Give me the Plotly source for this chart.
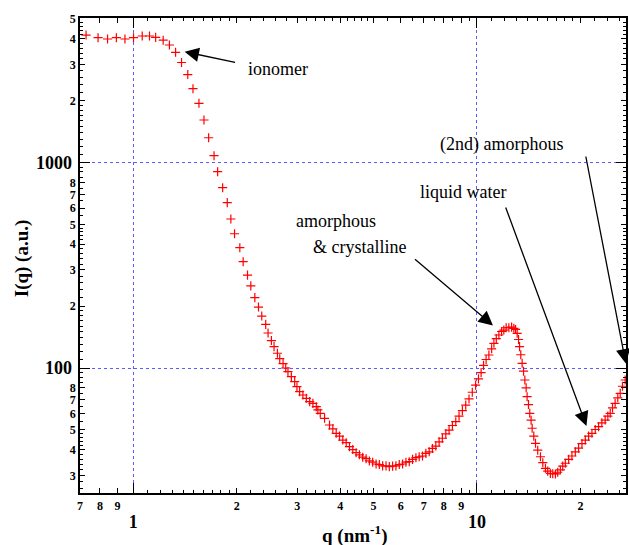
import plotly.graph_objects as go

# ---- data ----
q = [0.729, 0.790, 0.842, 0.893, 0.946, 1.002, 1.062, 1.115, 1.162, 1.222,
     1.274, 1.328, 1.382, 1.441, 1.492, 1.553, 1.606, 1.657, 1.718, 1.760,
     1.820, 1.877, 1.923, 1.971, 2.042, 2.088, 2.150, 2.198, 2.258, 2.314,
     2.365, 2.429, 2.467, 2.523, 2.568, 2.627, 2.668, 2.728, 2.777, 2.819,
     2.884, 2.949, 2.994, 3.048, 3.116, 3.188, 3.260, 3.332, 3.408, 3.444,
     3.500, 3.602, 3.724, 3.807, 3.894, 3.981, 4.070, 4.164, 4.256, 4.351,
     4.450, 4.550, 4.651, 4.758, 4.864, 4.972, 5.087, 5.199, 5.316, 5.437,
     5.558, 5.683, 5.810, 5.942, 6.075, 6.213, 6.352, 6.494, 6.643, 6.790,
     6.942, 7.100, 7.260, 7.420, 7.590, 7.760, 7.930, 8.116, 8.295, 8.482,
     8.675, 8.868, 9.067, 9.274, 9.480, 9.690, 9.910, 10.10, 10.28, 10.45,
     10.63, 10.83, 11.03, 11.20, 11.38, 11.58, 11.79, 11.97, 12.16, 12.38,
     12.61, 12.80, 12.95, 13.09, 13.21, 13.30, 13.41, 13.53, 13.66, 13.78,
     13.90, 13.99, 14.12, 14.24, 14.37, 14.47, 14.63, 14.80, 15.02, 15.30,
     15.54, 15.82, 16.06, 16.35, 16.61, 16.91, 17.17, 17.48, 17.76, 18.07,
     18.48, 18.89, 19.32, 19.75, 20.20, 20.66, 21.12, 21.60, 22.08, 22.58,
     23.08, 23.60, 24.02, 24.41, 24.79, 25.23, 25.68, 26.10, 26.50, 26.98]
intensity = [4170, 4050, 3990, 4050, 3990, 4050, 4126, 4126, 4064, 3937,
             3731, 3437, 3066, 2679, 2286, 1941, 1610, 1320, 1079, 902,
             754, 638, 531, 450, 385, 329, 283, 251, 220, 198,
             179, 163, 148, 136, 127, 118, 111, 105, 100, 96,
             90.7, 85.8, 81.1, 76.7, 73.9, 71.2, 68.6, 67.3, 64.8, 62.5,
             60.2, 56.9, 52.8, 50.6, 48.1, 46.6, 44.6, 43.3, 41.4, 40.1,
             38.7, 37.8, 36.8, 36.2, 35.3, 34.8, 34.1, 33.9, 33.4, 33.4,
             33.1, 33.3, 33.4, 33.9, 34.1, 34.8, 35.0, 35.9, 36.6, 37.0,
             37.3, 38.4, 39.1, 40.6, 41.7, 43.7, 45.5, 47.8, 49.9, 52.5,
             54.8, 58.3, 62.0, 66.0, 70.7, 76.2, 82.5, 88.5, 95.0, 103,
             110, 115.7, 124, 131.9, 139, 144.7, 150.5, 153, 157, 157,
             158, 156, 154, 147.5, 137.6, 127, 116, 105.4, 96.5, 87.4,
             80.1, 72.5, 66.4, 60.2, 55.7, 50.9, 46.6, 43.0, 39.8, 37.0,
             34.6, 32.5, 31.5, 30.7, 30.6, 30.5, 31.1, 31.9, 33.3, 34.4,
             35.9, 37.3, 39.1, 40.7, 42.9, 44.6, 46.6, 48.1, 50.2, 51.8,
             54.1, 55.8, 58.3, 60.2, 64.0, 67.3, 71.6, 75.3, 81.5, 87.4]

# tick labels
x_digit_vals = [0.7, 0.8, 0.9, 2, 3, 4, 5, 6, 7, 8, 9, 20]
x_digit_text = ["7", "8", "9", "2", "3", "4", "5", "6", "7", "8", "9", "2"]
x_major_vals = [1, 10]
x_major_text = ["1", "10"]
x_minor_vals = [1.1, 1.2, 1.3, 1.4, 1.5, 1.6, 1.7, 1.8, 1.9,
                2.2, 2.4, 2.6, 2.8, 3.2, 3.4, 3.6, 3.8, 4.2, 4.4, 4.6, 4.8,
                5.5, 6.5, 7.5, 8.5, 9.5,
                11, 12, 13, 14, 15, 16, 17, 18, 19, 22, 24, 26]

y_digit_vals = [30, 40, 50, 60, 70, 80, 200, 300, 400, 500, 600, 700, 800,
                2000, 3000, 4000, 5000]
y_digit_text = ["3", "4", "5", "6", "7", "8", "2", "3", "4", "5", "6", "7", "8",
                "2", "3", "4", "5"]
y_major_vals = [100, 1000]
y_major_text = ["100", "1000"]
y_minor_vals = [26, 28, 32, 34, 36, 38, 42, 44, 46, 48, 55, 65, 75, 85, 90, 95,
                110, 120, 130, 140, 150, 160, 170, 180, 190,
                220, 240, 260, 280, 320, 340, 360, 380, 420, 440, 460, 480,
                550, 650, 750, 850, 900, 950,
                1100, 1200, 1300, 1400, 1500, 1600, 1700, 1800, 1900,
                2200, 2400, 2600, 2800, 3200, 3400, 3600, 3800, 4200, 4400, 4600, 4800]

SERIF = "Liberation Serif, Times New Roman, serif"
XR = [-0.1549, 1.4335]
YR = [1.3917, 3.7032]

fig = go.Figure()
fig.add_trace(go.Scatter(
    x=q, y=intensity, mode="markers", showlegend=False, hoverinfo="skip",
    marker=dict(symbol="cross-thin", size=6.5, color="red",
                line=dict(color="red", width=1.2)),
))
fig.add_trace(go.Scatter(x=[], y=[], xaxis="x2", yaxis="y", showlegend=False))
fig.add_trace(go.Scatter(x=[], y=[], xaxis="x", yaxis="y2", showlegend=False))

common_tick = dict(ticks="inside", tickcolor="black", tickwidth=1, zeroline=False)

fig.update_layout(
    width=629, height=545, autosize=False,
    margin=dict(l=80, r=1, t=18, b=52),
    paper_bgcolor="white", plot_bgcolor="white",
    xaxis=dict(type="log", range=XR, showline=True, linecolor="black", linewidth=1.5,
               mirror="ticks", ticklen=5, tickvals=x_digit_vals, ticktext=x_digit_text,
               tickfont=dict(family=SERIF, size=12, color="black", weight="bold"),
               showgrid=False, ticklabelstandoff=1,
               minor=dict(tickvals=x_minor_vals, ticks="inside", ticklen=3,
                          tickcolor="black", tickwidth=1, showgrid=False),
               **common_tick),
    xaxis2=dict(type="log", range=XR, overlaying="x", anchor="y", side="bottom",
                showline=False, mirror="ticks", ticklen=10,
                tickvals=x_major_vals, ticktext=x_major_text,
                tickfont=dict(family=SERIF, size=18, color="black", weight="bold"),
                showgrid=True, gridcolor="#5a5aff", gridwidth=1, griddash="dot",
                ticklabelstandoff=16, **common_tick),
    yaxis=dict(type="log", range=YR, showline=True, linecolor="black", linewidth=1.5,
               mirror="ticks", ticklen=5, tickvals=y_digit_vals, ticktext=y_digit_text,
               tickfont=dict(family=SERIF, size=12, color="black", weight="bold"),
               showgrid=False, ticklabelstandoff=0,
               minor=dict(tickvals=y_minor_vals, ticks="inside", ticklen=3,
                          tickcolor="black", tickwidth=1, showgrid=False),
               **common_tick),
    yaxis2=dict(type="log", range=YR, overlaying="y", anchor="x", side="left",
                showline=False, mirror="ticks", ticklen=10,
                tickvals=y_major_vals, ticktext=y_major_text,
                tickfont=dict(family=SERIF, size=18, color="black", weight="bold"),
                showgrid=True, gridcolor="#5a5aff", gridwidth=1, griddash="dot",
                ticklabelstandoff=7, **common_tick),
)

# axis titles
fig.add_annotation(text="<b>q (nm<sup>-1</sup>)</b>", xref="paper", yref="paper",
                   x=0.5036, y=-0.088, showarrow=False, xanchor="center", yanchor="middle",
                   font=dict(family=SERIF, size=19, color="black"))
fig.add_annotation(text="<b>I(q) (a.u.)</b>", xref="paper", yref="paper",
                   x=-0.1058, y=0.4947, showarrow=False, textangle=-90,
                   xanchor="center", yanchor="middle",
                   font=dict(family=SERIF, size=19, color="black"))

# labels
labels = [("ionomer", 0.3631, 0.8926),
          ("amorphous", 0.469, 0.5733),
          ("&amp; crystalline", 0.5119, 0.5185),
          ("liquid water", 0.7016, 0.6343),
          ("(2nd) amorphous", 0.7719, 0.7347)]
for t, lx, ly in labels:
    fig.add_annotation(text=t, xref="paper", yref="paper", x=lx, y=ly, showarrow=False,
                       xanchor="center", yanchor="middle",
                       font=dict(family=SERIF, size=18, color="black"))

# arrows (head in data log-coords, tail offset in px)
arrows = [(0.1494, 3.5391, 52, 11),
          (1.0465, 2.2068, -79.5, -67.5),
          (1.3184, 1.7177, -81.3, -220),
          (1.4330, 2.0219, -40.3, -208.5)]
for hx, hy, ax, ay in arrows:
    fig.add_annotation(text="", x=hx, y=hy, xref="x", yref="y", ax=ax, ay=ay,
                       showarrow=True, arrowhead=2, arrowsize=2.2, arrowwidth=1.3,
                       arrowcolor="black", standoff=0)

fig.write_html("out.html", config={"displayModeBar": False})
